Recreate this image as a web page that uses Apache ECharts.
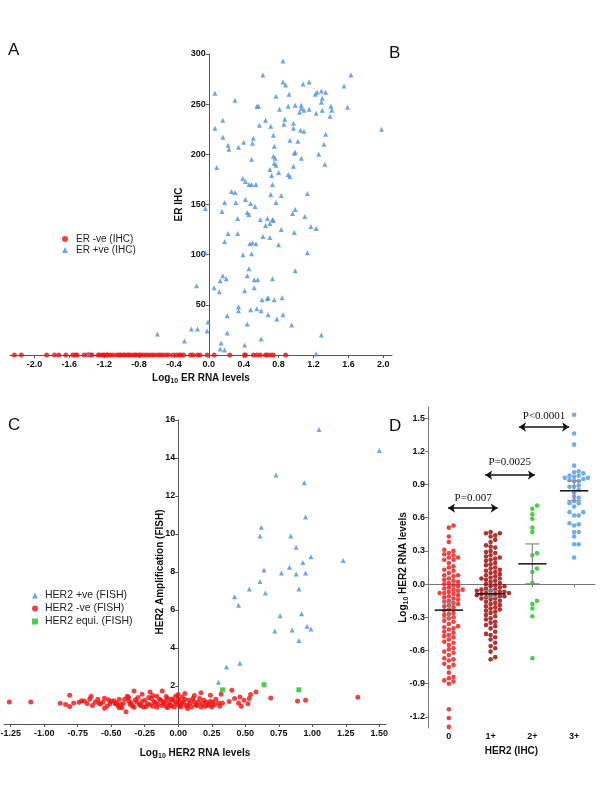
<!DOCTYPE html>
<html>
<head>
<meta charset="utf-8">
<script src="https://cdn.jsdelivr.net/npm/echarts@6/dist/echarts.min.js"></script>
<style>html,body{margin:0;background:#fff}#main{width:600px;height:800px}</style>
</head>
<body>
<div id="main"></div>
<script>
// A/B: ER RNA vs ER IHC
var erNegX = [-2.23,-2.15,-1.86,-1.77,-1.72,-1.64,-1.56,-1.53,-1.51,-1.43,-1.39,-1.36,-1.34,-1.27,-1.25,-1.22,-1.20,-1.17,-1.16,-1.13,-1.10,-1.06,-1.03,-1.01,-0.98,-0.96,-0.93,-0.91,-0.88,-0.85,-0.83,-0.80,-0.78,-0.75,-0.72,-0.69,-0.66,-0.63,-0.59,-0.56,-0.53,-0.49,-0.46,-0.41,-0.37,-0.34,-0.32,-0.29,-0.21,-0.18,-0.13,-0.10,-0.02,0.06,0.24,0.41,0.42,0.51,0.55,0.59,0.65,0.67,0.71,0.74,0.88];
var erPos = [[0.85,293],[1.63,279],[0.62,279],[1.98,225],[0.07,261],[0.30,254],[0.85,272],[0.88,269],[1.08,270],[1.15,272],[1.55,268],[1.22,260],[1.24,262],[1.29,263],[1.34,262],[0.92,260],[0.77,258],[1.30,256],[1.29,252],[0.55,248],[0.57,248],[0.81,245],[0.91,248],[0.99,249],[1.06,249],[1.06,246],[1.09,244],[1.04,242],[1.15,245],[1.23,241],[1.30,244],[1.40,248],[1.41,244],[1.39,238],[1.59,247],[0.65,234],[0.87,235],[0.86,230],[0.97,231],[0.16,234],[0.07,226],[0.58,229],[0.71,228],[0.97,226],[1.05,224],[1.09,223],[0.74,219],[1.34,220],[0.16,217],[0.51,216],[0.50,211],[0.40,212],[0.93,214],[1.02,213],[1.32,210],[0.22,209],[0.23,205],[0.34,207],[0.75,208],[0.98,201],[0.99,202],[1.26,200],[0.74,198],[0.76,196],[0.49,195],[1.06,196],[0.09,187],[0.75,191],[0.77,189],[0.97,188],[1.33,190],[0.80,182],[0.70,185],[0.91,180],[0.93,178],[0.72,179],[0.39,176],[0.42,173],[0.46,170],[0.49,170],[0.54,170],[0.73,170],[0.26,163],[0.30,162],[1.13,161],[0.83,159],[0.71,160],[0.42,155],[0.48,151],[0.18,152],[0.31,152],[0.77,152],[-0.04,146],[0.53,148],[0.15,143],[0.44,142],[0.46,140],[0.96,141],[0.99,145],[0.33,136],[0.59,135],[0.67,136],[0.73,135],[0.74,134],[1.10,138],[0.65,129],[0.70,131],[1.17,128],[1.23,126],[0.83,125],[0.22,121],[0.33,121],[0.98,122],[0.18,113],[0.47,111],[0.50,112],[0.54,111],[0.62,118],[0.70,117],[0.80,110],[-0.04,102],[0.49,101],[1.13,102],[0.39,100],[0.99,84],[0.46,86],[0.16,79],[0.44,79],[0.13,74],[0.20,76],[0.52,75],[0.56,75],[0.73,76],[0.06,67],[0.52,67],[0.12,63],[0.41,64],[-0.14,69],[0.61,55],[0.67,56],[0.68,57],[0.75,55],[0.84,57],[0.34,48],[0.34,44],[0.48,45],[0.55,46],[0.60,44],[0.21,39],[0.68,40],[0.85,40],[0.78,36],[0.44,31],[0.95,30],[-0.01,33],[-0.20,26],[-0.13,26],[-0.02,24],[-0.59,21],[0.21,22],[1.29,20],[-0.28,14],[0.14,12],[0.60,16],[0.41,10],[0.13,6],[0.18,5],[1.23,1],[-1.38,1]];
var erTicksX = [-2.0,-1.6,-1.2,-0.8,-0.4,0.0,0.4,0.8,1.2,1.6,2.0];
var erTicksY = [50,100,150,200,250,300];

// C: HER2 RNA vs FISH amplification
var her2Pos = [[1.05,15.5],[1.50,14.4],[0.73,13.1],[0.94,12.7],[0.95,10.9],[0.62,10.35],[0.61,9.9],[0.84,9.9],[0.88,9.3],[0.99,8.8],[1.23,8.6],[0.93,8.5],[0.83,8.25],[0.64,8.1],[0.77,7.95],[0.88,7.9],[0.95,7.95],[0.61,7.5],[0.53,7.1],[0.90,7.1],[0.65,6.9],[0.42,6.7],[0.45,6.25],[0.76,5.7],[0.92,5.8],[0.96,5.15],[0.99,5.0],[0.72,4.9],[0.85,4.95],[0.90,4.4],[0.36,3.0],[0.46,3.2],[0.30,2.2]];
var her2Equi = [[0.33,1.8],[0.64,2.07],[0.90,1.8]];
var her2Neg = [[-1.26,1.16],[-1.10,1.16],[-0.88,1.09],[-0.84,1.02],[-0.81,1.51],[-0.81,0.92],[-0.78,1.1],[-0.72,1.23],[-0.70,1.21],[-0.66,1.32],[-0.64,0.97],[-0.65,1.46],[-0.60,1.3],[-0.59,1.1],[-0.55,0.83],[-0.56,1.14],[-0.52,1.28],[-0.51,1.07],[-0.48,1.23],[-0.47,1.07],[-0.44,1.3],[-0.43,1.02],[-0.42,0.86],[-0.39,0.65],[-0.38,1.46],[-0.37,1.21],[-0.36,1.04],[-0.34,0.95],[-0.33,1.74],[-0.31,1.16],[-0.30,1.39],[-0.29,1.04],[-0.27,1.56],[-0.26,0.89],[-0.25,1.25],[-0.23,1.07],[-0.21,1.68],[-0.20,1.34],[-0.19,0.93],[-0.18,1.19],[-0.16,1.46],[-0.15,1.02],[-0.13,1.25],[-0.12,1.74],[-0.11,1.1],[-0.09,0.93],[-0.08,1.34],[-0.07,1.1],[-0.05,0.95],[-0.04,1.25],[-0.02,1.46],[-0.01,1.04],[0.00,1.3],[0.01,0.97],[0.03,1.42],[0.04,1.16],[0.05,1.6],[0.07,1.0],[0.08,1.25],[0.10,0.89],[0.12,1.19],[0.14,0.98],[0.16,1.34],[0.17,1.65],[0.18,1.07],[0.20,0.93],[0.21,1.16],[0.23,1.04],[0.24,1.51],[0.25,0.89],[0.26,1.13],[0.31,0.93],[0.32,1.56],[0.33,1.1],[0.38,1.19],[0.40,1.77],[0.42,1.34],[0.45,1.1],[0.46,1.42],[0.47,0.93],[0.49,1.25],[0.52,1.07],[0.53,1.34],[0.54,1.55],[0.58,1.68],[0.69,1.37],[0.89,1.21],[0.95,1.25],[1.34,1.41],[-0.58,1.05],[-0.53,0.95],[-0.50,1.18],[-0.46,1.12],[-0.45,0.98],[-0.41,1.08],[-0.40,1.30],[-0.35,1.12],[-0.33,0.88],[-0.32,1.28],[-0.28,0.98],[-0.27,1.18],[-0.24,0.92],[-0.22,1.40],[-0.21,1.02],[-0.17,1.12],[-0.16,0.88],[-0.14,1.30],[-0.12,0.98],[-0.10,1.20],[-0.09,1.45],[-0.06,1.00],[-0.05,1.32],[-0.03,0.90],[-0.02,1.15],[0.01,1.20],[0.02,0.90],[0.03,1.05],[0.05,1.30],[0.06,0.95],[0.09,1.10],[0.11,1.35],[0.13,1.00],[0.15,1.15],[0.17,0.90],[0.19,1.25],[0.22,0.98],[0.24,1.20],[0.27,1.00],[0.28,1.30],[0.30,1.10],[-0.62,1.15],[-0.68,1.08],[-0.74,1.15],[-0.55,1.35],[-0.37,1.40],[-0.19,1.50],[0.00,1.55],[0.12,1.50],[-0.08,0.85],[0.07,0.82],[-0.44,0.85]];
var her2TicksX = [-1.25,-1.0,-0.75,-0.5,-0.25,0,0.25,0.5,0.75,1.0,1.25,1.5];
var her2TicksY = [2,4,6,8,10,12,14,16];

// D: HER2 RNA by IHC score
var ihcCats = ['0','1+','2+','3+'];
var ihc0 = [0.53,0.51,0.43,0.38,0.31,0.30,0.28,0.27,0.26,0.24,0.24,0.22,0.22,0.19,0.16,0.15,0.13,0.12,0.10,0.08,0.08,0.07,0.05,0.04,0.03,0.02,0.01,0.00,-0.01,-0.02,-0.03,-0.04,-0.05,-0.05,-0.06,-0.07,-0.08,-0.08,-0.09,-0.10,-0.11,-0.12,-0.13,-0.14,-0.15,-0.16,-0.17,-0.18,-0.19,-0.20,-0.21,-0.23,-0.24,-0.26,-0.27,-0.28,-0.30,-0.31,-0.33,-0.34,-0.36,-0.38,-0.39,-0.40,-0.41,-0.43,-0.44,-0.46,-0.47,-0.48,-0.50,-0.52,-0.53,-0.55,-0.58,-0.59,-0.61,-0.62,-0.64,-0.67,-0.68,-0.69,-0.72,-0.73,-0.75,-0.80,-0.84,-0.85,-0.87,-0.88,-0.90,-1.13,-1.21,-1.29];
var ihc1 = [0.47,0.46,0.46,0.44,0.43,0.40,0.38,0.35,0.34,0.33,0.30,0.29,0.28,0.26,0.25,0.24,0.23,0.22,0.21,0.19,0.18,0.17,0.15,0.14,0.13,0.12,0.11,0.10,0.09,0.08,0.07,0.06,0.05,0.05,0.04,0.03,0.02,0.01,0.00,-0.01,-0.02,-0.02,-0.03,-0.04,-0.05,-0.05,-0.06,-0.06,-0.07,-0.07,-0.08,-0.08,-0.09,-0.09,-0.10,-0.10,-0.11,-0.11,-0.12,-0.13,-0.13,-0.14,-0.15,-0.16,-0.17,-0.18,-0.19,-0.20,-0.21,-0.22,-0.23,-0.24,-0.25,-0.26,-0.28,-0.29,-0.31,-0.32,-0.34,-0.35,-0.37,-0.38,-0.40,-0.43,-0.45,-0.46,-0.48,-0.50,-0.53,-0.56,-0.58,-0.61,-0.66,-0.68];
var ihc2 = [0.71,0.68,0.63,0.59,0.51,0.47,0.28,0.26,0.14,0.11,0.01,-0.15,-0.18,-0.22,-0.29,-0.67];
var ihc3 = [1.53,1.36,1.26,1.07,1.02,1.01,1.00,0.98,0.97,0.98,0.96,0.96,0.95,0.93,0.94,0.93,0.89,0.88,0.88,0.85,0.83,0.78,0.79,0.75,0.73,0.73,0.70,0.65,0.65,0.62,0.62,0.55,0.54,0.53,0.47,0.47,0.43,0.36,0.36,0.24];
var ihcMean = [-0.235,-0.088,0.183,0.843];
var ihcSem = [0.07,0.03,0.18,0.09];
var ihcTicksY = [-1.2,-0.9,-0.6,-0.3,0.0,0.3,0.6,0.9,1.2,1.5];
var pLabels = ['P=0.007','P=0.0025','P<0.0001'];
var pArrows = [[-0.02,1.17,0.687],[0.87,2.06,0.985],[1.68,2.88,1.419]];
var pTextPos = [[0.58,0.777],[1.46,1.10],[2.28,1.52]];

var FONT = 'Liberation Sans';
var chart = echarts.init(document.getElementById('main'));

// panel grids: [left, top, width, height]
var gA = [10, 54, 382, 301], gC = [4, 420, 382, 304], gD = [428, 407, 167, 321];
var xRangeA = [-2.28, 2.1], xRangeC = [-1.3, 1.55];

// shift a left y axis so it sits on x = 0
function zeroOffset(range, width) {
    return -(0 - range[0]) / (range[1] - range[0]) * width;
}

// simple beeswarm layout (pixel step converted to category units)
function swarm(values, idx) {
    var s = 4.6, pxY = 110.7, pxX = 41.7;
    var placed = [], out = [];
    values.slice().sort(function (a, b) { return a - b; }).forEach(function (v) {
        var py = v * pxY;
        for (var k = 0; k < 40; k++) {
            var off = (k % 2 === 1 ? 1 : -1) * Math.ceil(k / 2) * s;
            var ok = placed.every(function (p) {
                var dx = p[0] - off, dy = p[1] - py;
                return dx * dx + dy * dy >= s * s * 0.75;
            });
            if (ok) { placed.push([off, py]); out.push([idx + off / pxX, v]); break; }
        }
    });
    return out;
}

function grid(g) {
    return {left: g[0], top: g[1], width: g[2], height: g[3], outerBoundsMode: 'none', containLabel: false};
}

var tickLab = {fontFamily: FONT, fontWeight: 'bold', fontSize: 9, color: '#111'};
var axLine = {onZero: false, lineStyle: {color: '#555', width: 1}};
var nameStyle = {
    fontFamily: FONT, fontWeight: 'bold', fontSize: 10, color: '#111',
    rich: {
        a: {fontFamily: FONT, fontWeight: 'bold', fontSize: 10, color: '#111'},
        s: {fontFamily: FONT, fontWeight: 'bold', fontSize: 7, color: '#111', padding: [6, 0, 0, 0]}
    }
};

var option = {
    animation: false,
    backgroundColor: '#fff',
    grid: [grid(gA), grid(gC), grid(gD)],
    legend: [
        {
            orient: 'vertical', left: 57, top: 229, itemWidth: 6, itemHeight: 6, itemGap: 1,
            data: ['ER -ve (IHC)', 'ER +ve (IHC)'],
            textStyle: {fontFamily: FONT, fontSize: 10, color: '#222', padding: [0, 0, 0, 3]}
        },
        {
            orient: 'vertical', left: 27, top: 585, itemWidth: 6, itemHeight: 6, itemGap: 2,
            data: ['HER2 +ve (FISH)', 'HER2 -ve (FISH)', 'HER2 equi. (FISH)'],
            textStyle: {fontFamily: FONT, fontSize: 10.5, color: '#222', padding: [0, 0, 0, 2]}
        }
    ],
    xAxis: [
        {
            type: 'value', gridIndex: 0, min: xRangeA[0], max: xRangeA[1], splitLine: {show: false},
            axisLine: axLine, axisTick: {show: true, length: 3, customValues: erTicksX, lineStyle: {color: '#555'}},
            axisLabel: Object.assign({margin: 5, customValues: erTicksX, formatter: function (v) { return v.toFixed(1); }}, tickLab),
            name: '{a|Log}{s|10}{a| ER RNA levels}', nameLocation: 'middle', nameGap: 17, nameMoveOverlap: false, nameTextStyle: nameStyle
        },
        {
            type: 'value', gridIndex: 1, min: xRangeC[0], max: xRangeC[1], splitLine: {show: false},
            axisLine: axLine, axisTick: {show: true, length: 3, customValues: her2TicksX, lineStyle: {color: '#555'}},
            axisLabel: Object.assign({margin: 5, customValues: her2TicksX, formatter: function (v) { return v.toFixed(2); }}, tickLab),
            name: '{a|Log}{s|10}{a| HER2 RNA levels}', nameLocation: 'middle', nameGap: 23, nameMoveOverlap: false, nameTextStyle: nameStyle
        },
        {
            type: 'value', gridIndex: 2, min: -0.5, max: 3.5, splitLine: {show: false},
            axisLine: {onZero: true, lineStyle: {color: '#777', width: 1}},
            axisTick: {show: true, length: 3, customValues: [0, 1, 2, 3], lineStyle: {color: '#777'}},
            axisLabel: {show: false}
        },
        {
            type: 'category', gridIndex: 2, data: ihcCats, position: 'bottom',
            axisLine: {show: false, onZero: false}, axisTick: {show: false},
            axisLabel: Object.assign({margin: 4}, tickLab),
            name: 'HER2 (IHC)', nameLocation: 'middle', nameGap: 18, nameMoveOverlap: false, nameTextStyle: nameStyle
        }
    ],
    yAxis: [
        {
            type: 'value', gridIndex: 0, min: 0, max: 300, splitLine: {show: false},
            offset: zeroOffset(xRangeA, gA[2]),
            axisLine: axLine, axisTick: {show: true, length: 3, customValues: erTicksY, lineStyle: {color: '#555'}},
            axisLabel: Object.assign({margin: 3, customValues: erTicksY}, tickLab),
            name: 'ER IHC', nameLocation: 'middle', nameGap: 25, nameMoveOverlap: false, nameTextStyle: nameStyle
        },
        {
            type: 'value', gridIndex: 1, min: 0, max: 16, splitLine: {show: false},
            offset: zeroOffset(xRangeC, gC[2]),
            axisLine: axLine, axisTick: {show: true, length: 3, customValues: her2TicksY, lineStyle: {color: '#555'}},
            axisLabel: Object.assign({margin: 3, customValues: her2TicksY}, tickLab),
            name: 'HER2 Amplification (FISH)', nameLocation: 'middle', nameGap: 13, nameMoveOverlap: false, nameTextStyle: nameStyle
        },
        {
            type: 'value', gridIndex: 2, min: -1.3, max: 1.6, splitLine: {show: false},
            axisLine: {onZero: false, lineStyle: {color: '#777', width: 1}},
            axisTick: {show: true, length: 3, customValues: ihcTicksY, lineStyle: {color: '#777'}},
            axisLabel: Object.assign({margin: 3, customValues: ihcTicksY, formatter: function (v) { return v.toFixed(1); }}, tickLab),
            name: '{a|Log}{s|10}{a| HER2 RNA levels}', nameLocation: 'middle', nameGap: 18, nameMoveOverlap: false, nameTextStyle: nameStyle
        }
    ],
    graphic: [
        {type: 'text', left: 8, top: 42, style: {text: 'A', font: '17px ' + FONT, fill: '#111'}},
        {type: 'text', left: 389, top: 45, style: {text: 'B', font: '17px ' + FONT, fill: '#111'}},
        {type: 'text', left: 8, top: 417, style: {text: 'C', font: '17px ' + FONT, fill: '#111'}},
        {type: 'text', left: 389, top: 418, style: {text: 'D', font: '17px ' + FONT, fill: '#111'}}
    ],
    series: [
        {
            name: 'ER -ve (IHC)', type: 'scatter', xAxisIndex: 0, yAxisIndex: 0,
            symbol: 'circle', symbolSize: 5, itemStyle: {color: '#f01010'},
            data: erNegX.map(function (x) { return [x, 0]; })
        },
        {
            name: 'ER +ve (IHC)', type: 'scatter', xAxisIndex: 0, yAxisIndex: 0,
            symbol: 'triangle', symbolSize: 5, itemStyle: {color: '#4a90e2'}, data: erPos
        },
        {
            name: 'HER2 +ve (FISH)', type: 'scatter', xAxisIndex: 1, yAxisIndex: 1,
            symbol: 'triangle', symbolSize: 5, itemStyle: {color: '#4a90e2'}, data: her2Pos
        },
        {
            name: 'HER2 -ve (FISH)', type: 'scatter', xAxisIndex: 1, yAxisIndex: 1,
            symbol: 'circle', symbolSize: 5, itemStyle: {color: '#f01010'}, data: her2Neg
        },
        {
            name: 'HER2 equi. (FISH)', type: 'scatter', xAxisIndex: 1, yAxisIndex: 1,
            symbol: 'rect', symbolSize: 5, itemStyle: {color: '#1ec31e'}, data: her2Equi
        },
        {
            name: 'IHC 0', type: 'scatter', xAxisIndex: 2, yAxisIndex: 2,
            symbolSize: 4.6, itemStyle: {color: '#f01010'}, data: swarm(ihc0, 0)
        },
        {
            name: 'IHC 1+', type: 'scatter', xAxisIndex: 2, yAxisIndex: 2,
            symbolSize: 4.6, itemStyle: {color: '#9c0000'}, data: swarm(ihc1, 1)
        },
        {
            name: 'IHC 2+', type: 'scatter', xAxisIndex: 2, yAxisIndex: 2,
            symbolSize: 4.6, itemStyle: {color: '#1ec31e'}, data: swarm(ihc2, 2)
        },
        {
            name: 'IHC 3+', type: 'scatter', xAxisIndex: 2, yAxisIndex: 2,
            symbolSize: 4.6, itemStyle: {color: '#4d97ea'}, data: swarm(ihc3, 3)
        },
        {
            name: 'mean', type: 'custom', xAxisIndex: 2, yAxisIndex: 2, z: 5, clip: false,
            data: ihcMean.map(function (m, i) { return [i, m, ihcSem[i]]; }),
            renderItem: function (params, api) {
                var i = api.value(0), m = api.value(1), e = api.value(2);
                var l = api.coord([i - 0.34, m]), r = api.coord([i + 0.34, m]);
                var t = api.coord([i, m + e]), b = api.coord([i, m - e]);
                var gray = {stroke: '#8a8a8a', lineWidth: 1.2};
                return {type: 'group', children: [
                    {type: 'line', shape: {x1: t[0], y1: t[1], x2: b[0], y2: b[1]}, style: gray},
                    {type: 'line', shape: {x1: t[0] - 7, y1: t[1], x2: t[0] + 7, y2: t[1]}, style: gray},
                    {type: 'line', shape: {x1: b[0] - 7, y1: b[1], x2: b[0] + 7, y2: b[1]}, style: gray},
                    {type: 'line', shape: {x1: l[0], y1: l[1], x2: r[0], y2: r[1]}, style: {stroke: '#111', lineWidth: 1.5}}
                ]};
            }
        },
        {
            name: 'arrows', type: 'lines', coordinateSystem: 'cartesian2d', xAxisIndex: 2, yAxisIndex: 2,
            symbol: ['arrow', 'arrow'], symbolSize: 7, z: 6,
            lineStyle: {color: '#111', width: 1.5, opacity: 1},
            data: pArrows.map(function (a) { return {coords: [[a[0], a[2]], [a[1], a[2]]]}; })
        },
        {
            name: 'pvalues', type: 'custom', xAxisIndex: 2, yAxisIndex: 2, z: 6, clip: false,
            data: pTextPos.map(function (p, i) { return [p[0], p[1], i]; }),
            renderItem: function (params, api) {
                var c = api.coord([api.value(0), api.value(1)]);
                return {type: 'text', x: c[0], y: c[1], style: {
                    text: pLabels[api.value(2)], font: '11px "Liberation Serif"', fill: '#111',
                    textAlign: 'center', textVerticalAlign: 'middle'
                }};
            }
        }
    ]
};
chart.setOption(option);
</script>
</body>
</html>
